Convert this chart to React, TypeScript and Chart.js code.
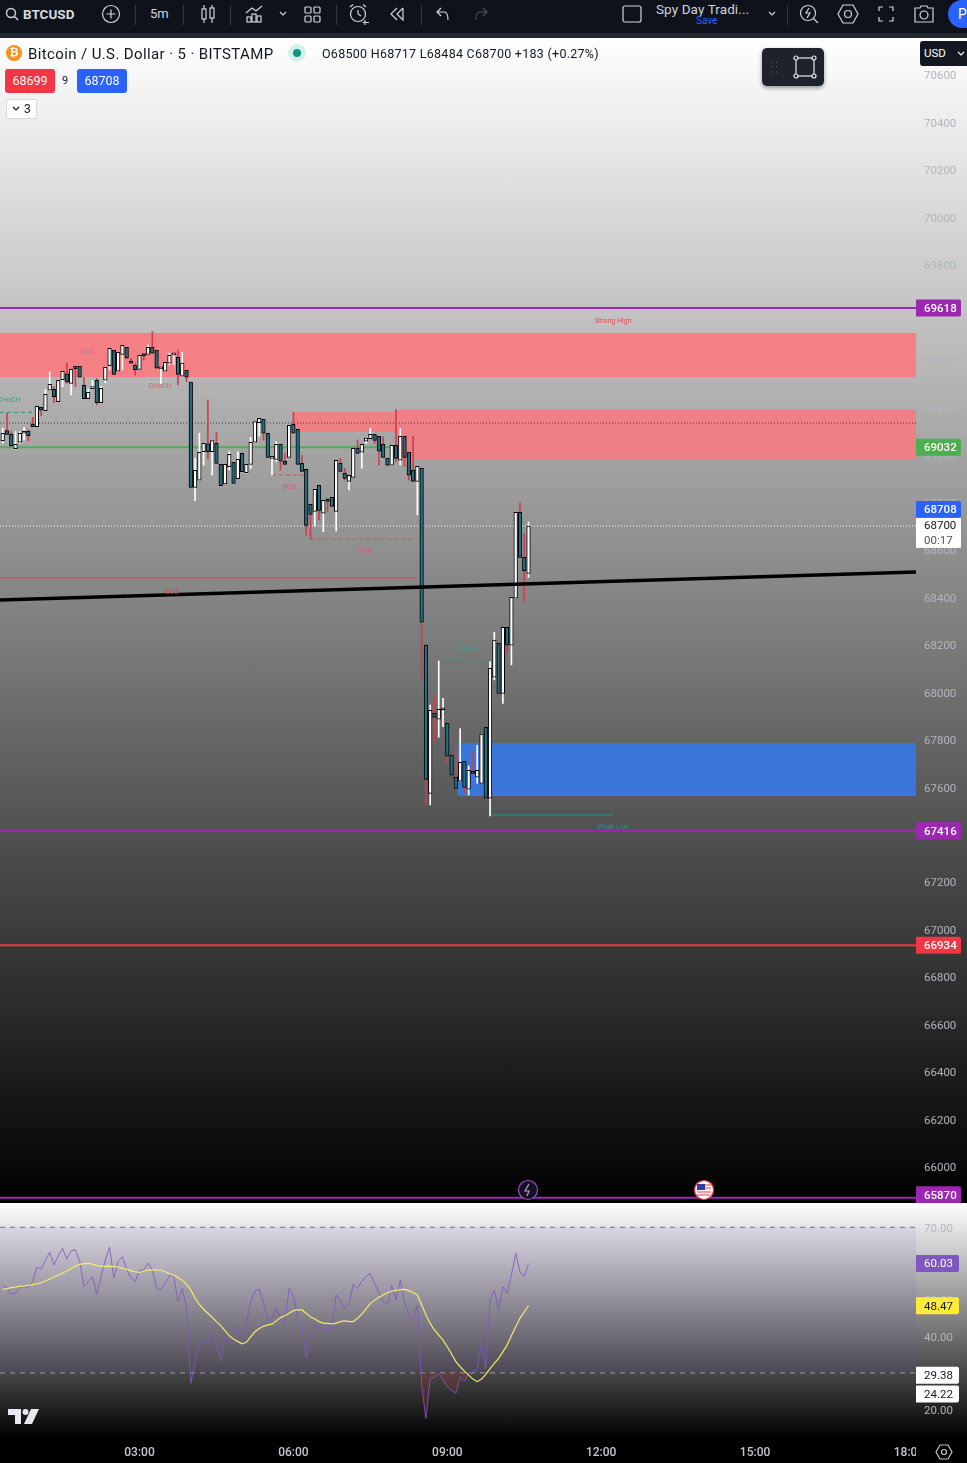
import React, { useEffect, useRef } from "react";
import { Chart, registerables } from "chart.js";

Chart.register(...registerables);

const opens = [
  69060, 69102, 69086, 69026, 69053, 69091, 69099, 69130, 69119, 69200,
  69186, 69272, 69276, 69224, 69317, 69341, 69301, 69373, 69373, 69293,
  69237, 69279, 69314, 69220, 69314, 69376, 69440, 69352, 69423, 69453,
  69394, 69377, 69360, 69419, 69423, 69453, 69440, 69362, 69352, 69386,
  69421, 69411, 69331, 69356, 69306, 68863, 68893, 69013, 69046, 69013,
  69048, 68960, 68877, 68950, 68968, 68900, 69006, 68925, 68960, 69053,
  69135, 69150, 69091, 68985, 68981, 69044, 68973, 68989, 69128, 69107,
  68964, 68939, 68791, 68762, 68871, 68754, 68813, 68821, 68762, 68964,
  68922, 68888, 68905, 69027, 69011, 69057, 69068, 69086, 69078, 69044,
  68985, 68956, 69040, 68977, 69078, 69011, 68935, 68888, 68943, 68198,
  67574, 67911, 67886, 67926, 67869, 67734, 67642, 67625, 67709, 67591,
  67663, 67642, 67616, 67852, 67553, 68063, 68206, 67995, 68273, 68198,
  68396, 68758, 68568, 68500,
];
const closes = [
  69091, 69086, 69039, 69044, 69091, 69094, 69081, 69119, 69204, 69189,
  69255, 69297, 69245, 69314, 69352, 69307, 69360, 69363, 69327, 69237,
  69263, 69284, 69220, 69280, 69369, 69449, 69339, 69432, 69461, 69407,
  69386, 69359, 69419, 69417, 69453, 69428, 69365, 69365, 69390, 69419,
  69423, 69339, 69386, 69327, 68863, 68935, 69011, 69048, 69013, 69060,
  68964, 68870, 68960, 69002, 68880, 68981, 68929, 68960, 69053, 69140,
  69154, 69091, 68989, 68987, 69044, 68973, 68960, 69124, 69091, 68960,
  68930, 68703, 68749, 68855, 68766, 68808, 68804, 68783, 68977, 68930,
  68901, 68914, 69027, 69006, 69044, 69070, 69086, 69061, 69015, 68989,
  68956, 69040, 68985, 69078, 68989, 68914, 68888, 68952, 68295, 67633,
  67924, 67894, 67928, 67928, 67730, 67650, 67595, 67705, 67599, 67671,
  67658, 67671, 67823, 67553, 68101, 68219, 67995, 68273, 68198, 68400,
  68758, 68568, 68512, 68700,
];
const highs = [
  69112, 69175, 69098, 69098, 69098, 69116, 69105, 69158, 69204, 69200,
  69276, 69350, 69287, 69314, 69352, 69386, 69360, 69373, 69373, 69325,
  69276, 69313, 69322, 69287, 69369, 69449, 69440, 69432, 69461, 69453,
  69407, 69386, 69419, 69428, 69463, 69519, 69440, 69365, 69390, 69428,
  69423, 69442, 69432, 69356, 69306, 68985, 69091, 69048, 69231, 69060,
  69095, 68960, 68960, 69013, 68968, 69013, 69006, 68960, 69074, 69140,
  69154, 69150, 69091, 68987, 69055, 69044, 69006, 69124, 69179, 69107,
  68999, 68939, 68791, 68855, 68871, 68808, 68817, 68821, 68977, 68985,
  68943, 68914, 69027, 69063, 69044, 69070, 69112, 69086, 69078, 69077,
  68985, 69040, 69189, 69112, 69078, 69011, 69077, 68952, 68943, 68198,
  67946, 67981, 68132, 67974, 67869, 67734, 67771, 67847, 67709, 67689,
  67750, 67776, 67823, 67852, 68129, 68252, 68206, 68273, 68273, 68400,
  68758, 68799, 68669, 68717,
];
const lows = [
  69049, 69086, 69035, 69023, 69049, 69063, 69060, 69119, 69119, 69164,
  69186, 69272, 69220, 69224, 69287, 69301, 69252, 69287, 69327, 69237,
  69237, 69279, 69211, 69220, 69304, 69357, 69339, 69352, 69357, 69407,
  69386, 69336, 69360, 69400, 69423, 69428, 69365, 69301, 69352, 69379,
  69379, 69294, 69331, 69308, 68863, 68807, 68893, 68957, 68985, 68915,
  68964, 68870, 68877, 68936, 68880, 68900, 68929, 68922, 68943, 69053,
  69079, 69062, 68989, 68915, 68971, 68936, 68960, 68989, 69091, 68960,
  68930, 68662, 68644, 68700, 68725, 68676, 68761, 68783, 68679, 68930,
  68894, 68852, 68905, 69006, 68943, 69048, 69068, 69048, 68957, 68989,
  68953, 68956, 68971, 68957, 68950, 68894, 68888, 68747, 68052, 67525,
  67525, 67792, 67810, 67855, 67701, 67650, 67595, 67625, 67574, 67567,
  67658, 67616, 67616, 67553, 67479, 68052, 67995, 67953, 68164, 68115,
  68396, 68568, 68382, 68484,
];
const rsiValues = [
  53.9, 53.4, 51.6, 51.9, 53.5, 53.7, 53.5, 55.1, 59.0, 58.5,
  61.0, 63.1, 59.6, 62.2, 64.2, 61.3, 63.6, 63.8, 60.6, 53.7,
  55.1, 56.4, 51.6, 56.4, 61.0, 64.5, 56.2, 60.7, 61.9, 58.3,
  56.2, 55.1, 58.1, 58.3, 60.1, 58.3, 53.2, 52.8, 54.6, 56.7,
  56.7, 49.6, 53.2, 47.9, 27.1, 33.1, 38.1, 39.0, 38.6, 41.3,
  37.7, 33.5, 39.9, 39.0, 37.7, 42.7, 40.4, 43.2, 49.6, 52.5,
  53.0, 49.1, 44.5, 45.0, 47.9, 45.0, 43.6, 53.2, 50.9, 45.4,
  43.2, 34.0, 39.9, 43.2, 42.7, 42.2, 42.2, 41.8, 51.4, 49.6,
  47.9, 48.8, 54.3, 53.2, 55.2, 56.5, 57.3, 54.6, 51.9, 49.6,
  48.7, 54.0, 50.0, 55.5, 49.4, 45.9, 44.5, 48.7, 26.7, 17.5,
  28.5, 28.7, 29.9, 28.0, 26.2, 25.3, 24.4, 29.0, 27.6, 29.9,
  30.3, 31.1, 38.1, 31.2, 50.0, 52.8, 47.3, 53.7, 51.9, 56.9,
  62.85, 57.8, 56.4, 60.03,
];
const rsiAverage = [
  52.95, 53.14, 53.41, 53.6, 53.78, 53.87, 54.05, 54.24, 54.42, 54.8,
  55.24, 55.8, 56.34, 56.9, 57.44, 58, 58.63, 59.36, 59.8, 60,
  60.1, 59.9, 59.55, 59.36, 59.27, 59.27, 59.18, 59.1, 58.8, 58.45,
  58.1, 57.8, 57.6, 58, 58.2, 58.3, 58.3, 58.2, 57.8, 57.25,
  56.8, 56.25, 55.5, 54.3, 52.8, 50.5, 48.8, 47.5, 46.4, 45.3,
  44.1, 43, 41.6, 40.2, 39.3, 38.6, 38, 38.4, 39.9, 41.3,
  42.2, 42.8, 43.2, 43.4, 44.3, 45.2, 45.7, 46.4, 47.1, 47.3,
  47.3, 46.4, 45.4, 44.8, 44.1, 43.7, 43.6, 43.5, 43.7, 44.1,
  44.3, 44.1, 44.1, 45, 46.1, 47.6, 49.1, 50, 50.8, 51.4,
  52, 52.5, 52.7, 52.9, 52.96, 52.6, 52.1, 51.4, 48.7, 45.9,
  43.6, 41.8, 40.4, 39, 37.2, 35.2, 33.1, 31.7, 30.5, 29.4,
  28.3, 27.6, 28.3, 29.6, 31.2, 32.6, 34, 35.8, 37.7, 40.2,
  42.7, 45, 46.8, 48.47,
];

const priceTicks = [
  66000, 66200, 66400, 66600, 66800, 67000, 67200, 67400, 67600, 67800, 68000, 68200,
  68400, 68600, 68800, 69000, 69200, 69400, 69600, 69800, 70000, 70200, 70400, 70600,
];
const rsiTicks = [20, 30, 40, 50, 60, 70];
const timeTickBars = [33, 69, 105, 141, 177, 213];
const timeTickLabels = ["03:00", "06:00", "09:00", "12:00", "15:00", "18:00"];

const BAR_MIN = 0.368;
const BAR_MAX = 214.64;

// supply and demand zones: first bar, last bar, top price, bottom price
const zoneFirstBars = [BAR_MIN, 68.9, 93, 107.3];
const zoneLastBars = [BAR_MAX, 93, BAR_MAX, BAR_MAX];
const zoneTops = [69513, 69180, 69189, 67786];
const zoneBottoms = [69328, 69096, 68982, 67563];

// structure lines: first bar, last bar, price
const structFirstBars = [BAR_MIN, BAR_MIN, 64, 73, 103, 115];
const structLastBars = [98, 9, 71.5, 97.5, 115, 144];
const structPrices = [68481, 69179, 68915, 68644, 68131, 67483];

const trendPrices = [68388, 68506];

const keyLevels = [69618, 67416, 65870];
const greenLevel = 69032;
const redLevel = 66934;
const lastPriceLevel = 68700;
const dottedLevel = 69134;

const noteTexts = ["Strong High", "Weak Low", "BOS", "CHoCH", "CHoCH", "BOS", "BOS", "BOS", "CHoCH"];
const noteBars = [143.8, 143.8, 20.9, 37.8, 2.5, 68, 85.7, 40.6, 109.2];
const notePrices = [69564, 67432, 69433, 69290, 69231, 68864, 68595, 68422, 68182];
const noteColors = ["#d9535c", "#2f8f83", "#8f8f8f", "#d8606a", "#3f9a8a", "#d8606a", "#d8606a", "#d8404a", "#3f9a8a"];

const priceTagTexts = ["69618", "69032", "68708", "67416", "66934", "65870"];
const priceTagAnchors = [69618, 69032, 68770, 67416, 66934, 65883];
const priceTagColors = ["#9c27b0", "#4caf50", "#2962ff", "#9c27b0", "#f23645", "#9c27b0"];
const countdownAnchor = 68671;
const countdownTexts = ["68700", "00:17"];

const rsiTagTexts = ["60.03", "48.47", "29.38", "24.22"];
const rsiTagAnchors = [60.03, 48.47, 29.38, 24.22];
const rsiTagColors = ["#7e57c2", "#ffeb3b", "#ffffff", "#ffffff"];
const rsiTagInk = ["#ffffff", "#131722", "#131722", "#131722"];

const FONT = "Roboto, 'Open Sans', sans-serif";
const barIndex = opens.map((_, i) => i + 1);

const hLine = (x0: number, x1: number, y0: number, y1: number, color: string, width: number, order: number, dash: number[] = []) => ({
  type: "line" as const,
  data: [{ x: x0, y: y0 }, { x: x1, y: y1 }],
  borderColor: color,
  borderWidth: width,
  borderDash: dash,
  pointRadius: 0,
  order,
});

const zone = (i: number, color: string, order: number) => ({
  type: "line" as const,
  data: [{ x: zoneFirstBars[i], y: zoneTops[i] }, { x: zoneLastBars[i], y: zoneTops[i] }],
  borderWidth: 0,
  borderColor: "transparent",
  pointRadius: 0,
  fill: { target: { value: zoneBottoms[i] }, above: color, below: color },
  order,
});

const tag = (ctx: CanvasRenderingContext2D, x: number, w: number, cy: number, h: number, bg: string, ink: string, text: string) => {
  ctx.fillStyle = bg;
  ctx.beginPath();
  (ctx as any).roundRect(x, cy - h / 2, w, h, [0, 2, 2, 0]);
  ctx.fill();
  ctx.fillStyle = ink;
  ctx.textAlign = "left";
  ctx.textBaseline = "middle";
  ctx.fillText(text, x + 8, cy + 1);
};

const pricePlugin = {
  id: "priceDecor",
  afterDraw(chart: any) {
    const { ctx, scales } = chart;
    const xs = scales.x;
    const ys = scales.y;
    ctx.save();
    ctx.font = `7px ${FONT}`;
    ctx.textAlign = "center";
    ctx.textBaseline = "middle";
    noteTexts.forEach((t, i) => {
      ctx.fillStyle = noteColors[i];
      ctx.fillText(t, xs.getPixelForValue(noteBars[i]), ys.getPixelForValue(notePrices[i]));
    });
    ctx.font = `500 11.5px ${FONT}`;
    priceTagTexts.forEach((t, i) => {
      tag(ctx, xs.right, 45, ys.getPixelForValue(priceTagAnchors[i]), 17, priceTagColors[i], "#ffffff", t);
    });
    const cy = ys.getPixelForValue(countdownAnchor);
    ctx.fillStyle = "#ffffff";
    ctx.fillRect(xs.right, cy - 15, 45, 30);
    ctx.font = `11.5px ${FONT}`;
    ctx.textAlign = "left";
    ctx.fillStyle = "#131722";
    ctx.fillText(countdownTexts[0], xs.right + 8, cy - 6.5);
    ctx.fillStyle = "#555555";
    ctx.fillText(countdownTexts[1], xs.right + 8, cy + 8);
    ctx.restore();
  },
};

const rsiPlugin = {
  id: "rsiDecor",
  afterDraw(chart: any) {
    const { ctx, scales } = chart;
    ctx.save();
    ctx.font = `11.5px ${FONT}`;
    rsiTagTexts.forEach((t, i) => {
      tag(ctx, scales.x.right, 43, scales.y.getPixelForValue(rsiTagAnchors[i]), 17, rsiTagColors[i], rsiTagInk[i], t);
    });
    ctx.restore();
  },
};

const flatAxis = (w: number) => (s: any) => {
  s.width = w;
  s.paddingTop = 0;
  s.paddingBottom = 0;
};

const Icon = ({ x, y, w = 20, h = 20, children, color = "#d1d4dc", sw = 1.2 }: any) => (
  <svg
    width={w}
    height={h}
    viewBox={`0 0 ${w} ${h}`}
    style={{ position: "absolute", left: x - w / 2, top: y - h / 2 }}
    fill="none"
    stroke={color}
    strokeWidth={sw}
  >
    {children}
  </svg>
);

const abs = (x: number, y: number, extra: any = {}) => ({
  position: "absolute" as const,
  left: x,
  top: y,
  whiteSpace: "nowrap" as const,
  ...extra,
});

const Sep = ({ x }: { x: number }) => <div style={abs(x, 5, { width: 1, height: 20, background: "#333844" })} />;

export default function App() {
  const mainRef = useRef<HTMLCanvasElement>(null);
  const rsiRef = useRef<HTMLCanvasElement>(null);

  useEffect(() => {
    const up = (i: number) => closes[i] >= opens[i];
    const main = new Chart(mainRef.current as any, {
      type: "bar",
      data: {
        datasets: [
          hLine(BAR_MIN, BAR_MAX, greenLevel, greenLevel, "#4caf50", 2, 90),
          zone(0, "rgba(247,125,131,0.96)", 80),
          zone(1, "rgba(242,125,130,0.96)", 80),
          zone(2, "rgba(240,126,131,0.96)", 80),
          zone(3, "#3b76da", 80),
          hLine(BAR_MIN, BAR_MAX, dottedLevel, dottedLevel, "#3a3a3a", 1, 70, [1, 2]),
          hLine(BAR_MIN, BAR_MAX, lastPriceLevel, lastPriceLevel, "#ffffff", 1, 70, [1, 2]),
          ...keyLevels.map((v) => hLine(BAR_MIN, BAR_MAX, v, v, "#9c27b0", 2, 65)),
          hLine(BAR_MIN, BAR_MAX, redLevel, redLevel, "#f23645", 2, 65),
          hLine(structFirstBars[0], structLastBars[0], structPrices[0], structPrices[0], "rgba(214,64,74,0.8)", 1, 60),
          hLine(structFirstBars[1], structLastBars[1], structPrices[1], structPrices[1], "#2f8f83", 1, 60, [4, 3]),
          hLine(structFirstBars[2], structLastBars[2], structPrices[2], structPrices[2], "#d8505a", 1, 60, [4, 3]),
          hLine(structFirstBars[3], structLastBars[3], structPrices[3], structPrices[3], "#d8505a", 1, 60, [4, 3]),
          hLine(structFirstBars[4], structLastBars[4], structPrices[4], structPrices[4], "#2f8f83", 1, 60, [4, 3]),
          hLine(structFirstBars[5], structLastBars[5], structPrices[5], structPrices[5], "#2f8f83", 1, 60),
          {
            type: "bar" as const,
            label: "wicks",
            data: barIndex.map((x, i) => ({ x, y: [lows[i], highs[i]] })),
            backgroundColor: barIndex.map((_, i) => (up(i) ? "#ffffff" : "#c9404f")),
            barThickness: 1,
            borderWidth: 0,
            order: 30,
          },
          {
            type: "bar" as const,
            label: "bodies",
            data: barIndex.map((x, i) => ({ x, y: [opens[i], closes[i]] })),
            backgroundColor: barIndex.map((_, i) => (up(i) ? "#ffffff" : "#256f80")),
            borderColor: "#000000",
            borderWidth: 1,
            borderSkipped: false,
            barThickness: 3.6,
            minBarLength: 2,
            order: 20,
          },
          hLine(BAR_MIN, BAR_MAX, trendPrices[0], trendPrices[1], "#000000", 3.5, 10),
        ] as any,
      },
      options: {
        animation: false,
        responsive: false,
        devicePixelRatio: 1,
        events: [],
        grouped: false,
        layout: { padding: 0, autoPadding: false },
        plugins: { legend: { display: false }, tooltip: { enabled: false } },
        scales: {
          x: { type: "linear", min: BAR_MIN, max: BAR_MAX, display: false, offset: false },
          y: {
            position: "right",
            min: 65848,
            max: 70756,
            afterBuildTicks: (s: any) => {
              s.ticks = priceTicks.map((value) => ({ value }));
            },
            afterFit: flatAxis(51),
            border: { display: false },
            grid: { display: false, drawTicks: false },
            ticks: {
              color: "#b2b5be",
              padding: 8,
              labelOffset: 1.5,
              autoSkip: false,
              font: { family: FONT, size: 11.5 },
              callback: (v: any) => String(v),
            },
          },
        },
      } as any,
      plugins: [pricePlugin],
    });

    const rsi = new Chart(rsiRef.current as any, {
      type: "line",
      data: {
        datasets: [
          {
            data: [{ x: BAR_MIN, y: 70 }, { x: BAR_MAX, y: 70 }],
            borderColor: "#6f7280",
            borderWidth: 1,
            borderDash: [5, 5],
            pointRadius: 0,
            fill: { target: { value: 30 }, above: "rgba(126,87,194,0.1)", below: "rgba(126,87,194,0.1)" },
            order: 50,
          },
          hLine(BAR_MIN, BAR_MAX, 50, 50, "rgba(120,123,134,0.4)", 1, 49, [5, 5]),
          hLine(BAR_MIN, BAR_MAX, 30, 30, "#a0a0a6", 1, 49, [5, 5]),
          {
            data: barIndex.map((x, i) => ({ x, y: rsiValues[i] })),
            borderColor: "rgba(126,87,194,0.85)",
            borderWidth: 1,
            pointRadius: 0,
            tension: 0,
            fill: { target: { value: 30 }, above: "rgba(0,0,0,0)", below: "rgba(190,40,40,0.2)" },
            order: 20,
          },
          {
            data: barIndex.map((x, i) => ({ x, y: rsiAverage[i] })),
            borderColor: "#f5e86a",
            borderWidth: 1.2,
            pointRadius: 0,
            tension: 0,
            order: 10,
          },
        ] as any,
      },
      options: {
        animation: false,
        responsive: false,
        devicePixelRatio: 1,
        events: [],
        layout: { padding: 0, autoPadding: false },
        plugins: { legend: { display: false }, tooltip: { enabled: false } },
        scales: {
          x: {
            type: "linear",
            min: BAR_MIN,
            max: BAR_MAX,
            afterBuildTicks: (s: any) => {
              s.ticks = timeTickBars.map((value) => ({ value }));
            },
            afterFit: (s: any) => {
              s.height = 25;
              s.paddingLeft = 0;
              s.paddingRight = 0;
            },
            border: { display: false },
            grid: { display: false, drawTicks: false },
            ticks: {
              color: "#c4c6ce",
              padding: 8,
              autoSkip: false,
              maxRotation: 0,
              font: { family: FONT, size: 12, weight: 500 },
              callback: (v: any) => timeTickLabels[timeTickBars.indexOf(v)] ?? "",
            },
          },
          y: {
            position: "right",
            min: 12.12,
            max: 76.68,
            afterBuildTicks: (s: any) => {
              s.ticks = rsiTicks.map((value) => ({ value }));
            },
            afterFit: flatAxis(51),
            border: { display: false },
            grid: { display: false, drawTicks: false },
            ticks: {
              color: "#b2b5be",
              padding: 8,
              labelOffset: 1.5,
              autoSkip: false,
              font: { family: FONT, size: 11.5 },
              callback: (v: any) => Number(v).toFixed(2),
            },
          },
        },
      } as any,
      plugins: [rsiPlugin],
    });

    return () => {
      main.destroy();
      rsi.destroy();
    };
  }, []);

  return (
    <div
      style={{
        position: "absolute",
        left: 0,
        top: 0,
        width: 967,
        height: 1463,
        overflow: "hidden",
        background: "#000",
        fontFamily: FONT,
      }}
    >
      {/* toolbar */}
      <div style={abs(0, 0, { width: 967, height: 33, background: "#0e121a" })} />
      <div style={abs(0, 33, { width: 967, height: 5, background: "#23272f" })} />
      <Icon x={12} y={14} w={14} h={14} sw={1.4}>
        <circle cx="6" cy="6" r="4.5" />
        <path d="M9.5 9.5 L13 13" />
      </Icon>
      <div style={abs(23, 6, { color: "#d8dae0", fontSize: 13.5, fontWeight: 700, lineHeight: "16px" })}>BTCUSD</div>
      <Icon x={111} y={14} w={20} h={20}>
        <circle cx="10" cy="10" r="8.5" />
        <path d="M10 5.5 V14.5 M5.5 10 H14.5" />
      </Icon>
      <Sep x={135} />
      <div style={abs(150, 6, { color: "#d1d4dc", fontSize: 13, lineHeight: "16px" })}>5m</div>
      <Sep x={183} />
      <Icon x={208} y={14} w={16} h={20}>
        <rect x="2" y="5" width="4" height="10" />
        <path d="M4 1 V5 M4 15 V19 M12 1 V4 M12 14 V19" />
        <rect x="10" y="4" width="4" height="10" />
      </Icon>
      <Sep x={230} />
      <Icon x={254} y={14} w={20} h={20}>
        <path d="M2 9 L8 4 L12 7 L18 2" />
        <rect x="3" y="13" width="4" height="5" />
        <rect x="8" y="10" width="4" height="8" />
        <rect x="13" y="12" width="4" height="6" />
      </Icon>
      <Icon x={283} y={14} w={10} h={8}>
        <path d="M2 2 L5 5 L8 2" />
      </Icon>
      <Icon x={312} y={14} w={18} h={18}>
        <rect x="2" y="2" width="6" height="6" rx="1" />
        <rect x="11" y="2" width="6" height="6" rx="1" />
        <rect x="2" y="11" width="6" height="6" rx="1" />
        <rect x="11" y="11" width="6" height="6" rx="1" />
      </Icon>
      <Sep x={336} />
      <Icon x={359} y={14} w={22} h={22}>
        <circle cx="10" cy="11" r="7.5" />
        <path d="M10 7 V11 L13 13 M2 4 L5 1.5 M18 4 L15 1.5 M17 17 V22 M14.5 19.5 H21" />
      </Icon>
      <Icon x={398} y={14} w={18} h={18}>
        <path d="M8 3 L2 9 L8 15 M14 3 L8 9 L14 15 V3" />
      </Icon>
      <Sep x={421} />
      <Icon x={443} y={14} w={16} h={16}>
        <path d="M6 2 L2 6 L6 10 M2 6 H9 C12 6 13 9 13 14" />
      </Icon>
      <Icon x={481} y={14} w={16} h={16} color="#4a4f5c">
        <path d="M10 2 L14 6 L10 10 M14 6 H7 C4 6 3 9 3 14" />
      </Icon>
      <Icon x={632} y={14} w={20} h={18}>
        <rect x="1" y="1" width="18" height="16" rx="2" />
      </Icon>
      <div style={abs(656, 1, { color: "#d1d4dc", fontSize: 13.5, lineHeight: "16px", letterSpacing: 0.1 })}>Spy Day Tradi...</div>
      <div style={abs(696, 15, { color: "#2962ff", fontSize: 10, lineHeight: "12px" })}>Save</div>
      <Icon x={772} y={14} w={10} h={8}>
        <path d="M2 2 L5 5 L8 2" />
      </Icon>
      <Sep x={787} />
      <Icon x={809} y={14} w={22} h={22}>
        <circle cx="10" cy="10" r="7.5" />
        <path d="M15 15 L20 20 M11 5 L8 10 H12 L9 15" />
      </Icon>
      <Icon x={848} y={14} w={22} h={22}>
        <path d="M6 2 H16 L21 11 L16 20 H6 L1 11 Z" />
        <circle cx="11" cy="11" r="3.5" />
      </Icon>
      <Icon x={886} y={14} w={18} h={18}>
        <path d="M2 6 V2 H6 M12 2 H16 V6 M16 12 V16 H12 M6 16 H2 V12" />
      </Icon>
      <Icon x={924} y={14} w={22} h={20}>
        <path d="M2 4 H7 L8 2 H14 L15 4 H20 V18 H2 Z" />
        <circle cx="11" cy="11" r="4" />
      </Icon>
      <div style={abs(948, 0, { width: 40, height: 28, borderRadius: 14, background: "#2962ff", color: "#fff", fontSize: 14, lineHeight: "28px", paddingLeft: 10, boxSizing: "border-box" })}>P</div>

      {/* panes */}
      <div style={abs(0, 38, { width: 967, height: 1165, background: "linear-gradient(#ffffff, #000000)" })} />
      <div style={abs(0, 1203, { width: 967, height: 235, background: "linear-gradient(#ffffff, #000000)" })} />
      <canvas ref={mainRef} width={967} height={1165} style={abs(0, 38, { display: "block" })} />
      <canvas ref={rsiRef} width={967} height={260} style={abs(0, 1203, { display: "block" })} />

      {/* legend */}
      <div style={abs(6, 45, { width: 16, height: 16, borderRadius: 8, background: "#f7931a", color: "#fff", fontSize: 11, fontWeight: 700, lineHeight: "16px", textAlign: "center" })}>₿</div>
      <div style={abs(28, 45, { color: "#131722", fontSize: 15, lineHeight: "18px", letterSpacing: 0.38 })}>Bitcoin / U.S. Dollar · 5 · BITSTAMP</div>
      <div style={abs(288, 44, { width: 18, height: 18, borderRadius: 9, background: "#d5efe9" })} />
      <div style={abs(293, 49, { width: 8, height: 8, borderRadius: 4, background: "#089981" })} />
      <div style={abs(322, 46, { color: "#131722", fontSize: 12.5, lineHeight: "16px", letterSpacing: 0.27 })}>O68500 H68717 L68484 C68700 +183 (+0.27%)</div>
      <div style={abs(5, 69, { width: 50, height: 24, background: "#f23645", color: "#fff", borderRadius: 3, fontSize: 12.5, lineHeight: "24px", textAlign: "center" })}>68699</div>
      <div style={abs(62, 73, { color: "#131722", fontSize: 11, lineHeight: "16px" })}>9</div>
      <div style={abs(77, 69, { width: 50, height: 24, background: "#2962ff", color: "#fff", borderRadius: 3, fontSize: 12.5, lineHeight: "24px", textAlign: "center" })}>68708</div>
      <div style={abs(6, 99, { width: 31, height: 20, boxSizing: "border-box", background: "#fff", border: "1px solid #d8d8d8", borderRadius: 2, color: "#131722", fontSize: 12, lineHeight: "18px", paddingLeft: 17 })}>3</div>
      <Icon x={16} y={109} w={10} h={8} color="#131722">
        <path d="M2 2 L5 5 L8 2" />
      </Icon>

      {/* floating tool */}
      <div style={abs(762, 48, { width: 62, height: 38, background: "#1e222d", borderRadius: 5, boxShadow: "0 2px 4px rgba(0,0,0,0.4)" })} />
      <Icon x={774} y={67} w={10} h={14} color="#50535e" sw={1.5}>
        <path d="M2 2 h1 M7 2 h1 M2 7 h1 M7 7 h1 M2 12 h1 M7 12 h1" />
      </Icon>
      <Icon x={805} y={67} w={26} h={26} color="#e6e8ee">
        <rect x="4" y="4" width="18" height="18" />
        <circle cx="4" cy="4" r="2" fill="#1e222d" />
        <circle cx="22" cy="4" r="2" fill="#1e222d" />
        <circle cx="4" cy="22" r="2" fill="#1e222d" />
        <circle cx="22" cy="22" r="2" fill="#1e222d" />
      </Icon>
      <div style={abs(920, 41, { width: 50, height: 25, background: "#131722", borderRadius: 3, color: "#fff", fontSize: 11.5, lineHeight: "25px", paddingLeft: 4, boxSizing: "border-box" })}>USD</div>
      <Icon x={961} y={54} w={8} h={6} color="#fff">
        <path d="M1 1 L4 4 L7 1" />
      </Icon>

      {/* events */}
      <Icon x={528} y={1190} w={22} h={22} color="#8e4fd0">
        <circle cx="11" cy="11" r="9.5" fill="#16101f" />
        <path d="M12 5 L8 12 H12 L10 17" stroke="#b39ddb" />
      </Icon>
      <Icon x={704} y={1190} w={22} h={22} color="#f23645">
        <circle cx="11" cy="11" r="9.5" fill="#ffffff" />
        <rect x="4" y="5" width="8" height="6" fill="#2a3f9e" stroke="none" />
        <path d="M4 13 H18 M4 16 H17 M12 6 H18 M12 9 H18" />
      </Icon>

      {/* corner and logo */}
      <div style={abs(916, 1438, { width: 51, height: 25, background: "#000" })} />
      <Icon x={944} y={1452} w={18} h={18} color="#c4c6ce">
        <path d="M5 2 H13 L17 9 L13 16 H5 L1 9 Z" />
        <circle cx="9" cy="9" r="2.5" />
      </Icon>
      <svg width={32} height={16} viewBox="0 0 32 16" style={abs(8, 1409)} fill="#e8e8ee">
        <path d="M0 0 H13 V15 H7 V6 H0 Z" />
        <circle cx="17.5" cy="3" r="3" />
        <path d="M23 0 H31 L24 15 H16 Z" />
      </svg>
    </div>
  );
}
